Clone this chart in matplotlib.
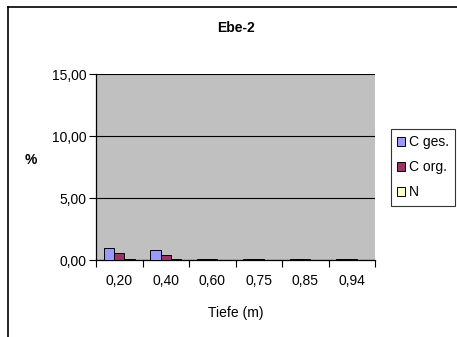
import numpy as np
import matplotlib
matplotlib.use('Agg')
from matplotlib import pyplot as plt
from matplotlib.lines import Line2D
from matplotlib.ticker import FuncFormatter, FixedLocator

plt.rcParams['font.family'] = ['Liberation Sans', 'DejaVu Sans']

depths = ['0,20', '0,40', '0,60', '0,75', '0,85', '0,94']
c_ges = [1.00, 0.80, 0.12, 0.10, 0.10, 0.10]
c_org = [0.60, 0.42, 0.06, 0.10, 0.06, 0.10]
n_val = [0.05, 0.05, 0.03, 0.02, 0.02, 0.02]

W, H = 457, 337
fig = plt.figure(figsize=(W / 100, H / 100), dpi=100)
ax = fig.add_axes([96 / W, 1 - 260 / H, (375 - 96) / W, (260 - 74) / H])

x = np.arange(len(depths))
w = 0.22
ax.bar(x - w, c_ges, w, color='#9999FF', edgecolor='black', linewidth=0.7, label='C ges.', zorder=3)
ax.bar(x, c_org, w, color='#993366', edgecolor='black', linewidth=0.7, label='C org.', zorder=3)
ax.bar(x + w, n_val, w, color='#FFFFCC', edgecolor='black', linewidth=0.7, label='N', zorder=3)

ax.set_facecolor('#C0C0C0')
ax.set_xlim(-0.5, len(depths) - 0.5)
ax.set_ylim(0, 15)
ax.set_yticks([0, 5, 10, 15])
ax.yaxis.set_major_formatter(FuncFormatter(lambda v, p: f'{v:.2f}'.replace('.', ',')))
ax.grid(axis='y', color='black', linewidth=0.8, zorder=1)
ax.set_axisbelow(True)

ax.set_xticks(x)
ax.set_xticklabels(depths)
ax.xaxis.set_minor_locator(FixedLocator(np.arange(-0.5, len(depths), 1.0)))
ax.tick_params(axis='x', which='major', length=0, pad=10, labelsize=10)
ax.tick_params(axis='x', which='minor', length=5, direction='out', width=0.8)
ax.tick_params(axis='y', length=5, direction='out', width=0.8, labelsize=10, pad=2)

for s in ['top', 'right']:
    ax.spines[s].set_visible(False)
for s in ['left', 'bottom']:
    ax.spines[s].set_linewidth(0.9)

ax.set_xlabel('Tiefe (m)', fontsize=10, labelpad=13)
ax.set_ylabel('%', fontsize=10, fontweight='bold', rotation=0)
ax.yaxis.set_label_coords(-0.235, 0.5)
fig.text(236 / W, 1 - 28 / H, 'Ebe-2', ha='center', va='center', fontsize=10, fontweight='bold')

leg = fig.legend(loc='upper left', bbox_to_anchor=(391 / W, 1 - 129 / H), frameon=True, fancybox=False,
                 edgecolor='black', fontsize=10, handlelength=0.55, handleheight=0.55,
                 handletextpad=0.3, borderpad=0.45, labelspacing=0.8, borderaxespad=0)
leg.get_frame().set_linewidth(0.8)

# outer chart frame (top and left edges visible)
fig.add_artist(Line2D([8 / W, 8 / W], [0, 1 - 7 / H], color='black', linewidth=1.2, transform=fig.transFigure))
fig.add_artist(Line2D([8 / W, 1], [1 - 7 / H, 1 - 7 / H], color='black', linewidth=1.2, transform=fig.transFigure))

fig.savefig('out.png', dpi=100)
